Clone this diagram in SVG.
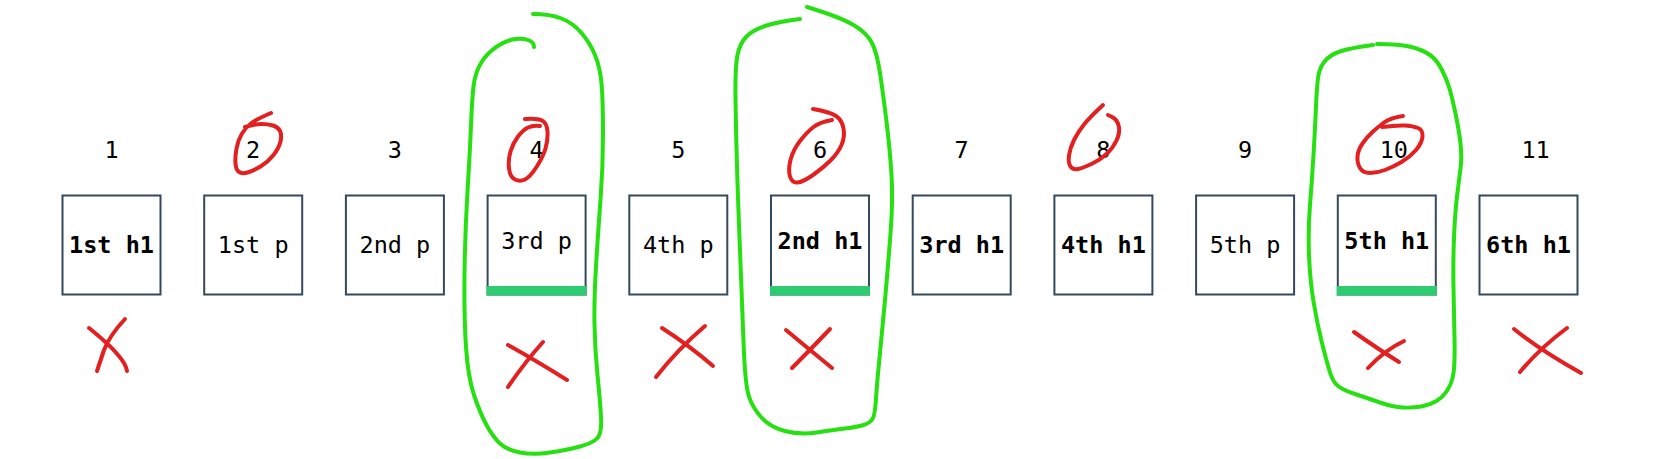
<svg xmlns="http://www.w3.org/2000/svg" width="1653" height="459" viewBox="0 0 1653 459">
<style>
.box{fill:#fff;stroke:#34495e;stroke-width:2}
.bar{fill:#2ecc71}
.t{font-family:"DejaVu Sans Mono","Liberation Mono",monospace;font-size:23.5px;fill:#000;text-anchor:middle}
.n{font-family:"DejaVu Sans Mono","Liberation Mono",monospace;font-size:23.5px;fill:#000;text-anchor:start}
.b{font-weight:bold}
.red{fill:none;stroke:#e3201f;stroke-width:4;stroke-linecap:round;stroke-linejoin:round}
.grn{fill:none;stroke:#26e012;stroke-width:4;stroke-linecap:round;stroke-linejoin:round}
</style>
<rect width="1653" height="459" fill="#fff"/>
<g id="labels">
<text class="n" x="104.4" y="158">1</text>
<text class="n" x="246.1" y="158">2</text>
<text class="n" x="387.8" y="158">3</text>
<text class="n" x="529.5" y="158">4</text>
<text class="n" x="671.2" y="158">5</text>
<text class="n" x="812.9" y="158">6</text>
<text class="n" x="954.6" y="158">7</text>
<text class="n" x="1096.3" y="158">8</text>
<text class="n" x="1238" y="158">9</text>
<text class="n" x="1379.7" y="158">10</text>
<text class="n" x="1521.4" y="158">11</text>
</g>
<g id="n1"><rect class="box" x="62.5" y="195.5" width="98" height="99"/><text class="t b" x="111.5" y="253">1st h1</text></g>
<g id="n2"><rect class="box" x="204.2" y="195.5" width="98" height="99"/><text class="t" x="253.2" y="253">1st p</text></g>
<g id="n3"><rect class="box" x="345.9" y="195.5" width="98" height="99"/><text class="t" x="394.9" y="253">2nd p</text></g>
<g id="n4"><rect class="box" x="487.6" y="195.5" width="98" height="99"/><rect class="bar" x="486.6" y="286" width="100" height="9.5"/><text class="t" x="536.6" y="249">3rd p</text></g>
<g id="n5"><rect class="box" x="629.3" y="195.5" width="98" height="99"/><text class="t" x="678.3" y="253">4th p</text></g>
<g id="n6"><rect class="box" x="771" y="195.5" width="98" height="99"/><rect class="bar" x="770" y="286" width="100" height="9.5"/><text class="t b" x="820" y="249">2nd h1</text></g>
<g id="n7"><rect class="box" x="912.7" y="195.5" width="98" height="99"/><text class="t b" x="961.7" y="253">3rd h1</text></g>
<g id="n8"><rect class="box" x="1054.4" y="195.5" width="98" height="99"/><text class="t b" x="1103.4" y="253">4th h1</text></g>
<g id="n9"><rect class="box" x="1196.1" y="195.5" width="98" height="99"/><text class="t" x="1245.1" y="253">5th p</text></g>
<g id="n10"><rect class="box" x="1337.8" y="195.5" width="98" height="99"/><rect class="bar" x="1336.8" y="286" width="100" height="9.5"/><text class="t b" x="1386.8" y="249">5th h1</text></g>
<g id="n11"><rect class="box" x="1479.5" y="195.5" width="98" height="99"/><text class="t b" x="1528.5" y="253">6th h1</text></g>
<g id="annotations">
<path class="grn" d="M533,14 Q550,14 561.5,18.5 Q573,23 581.5,33 Q590,43 595,55 Q600,67 601.5,83.5 Q603,100 603,133.5 Q603,167 600.5,200 Q598,233 596,266.5 Q594,300 594.5,325 Q595,350 597.5,375 Q600,400 601,416.5 Q602,433 597.5,438 Q593,443 580,446.5 Q567,450 550,452.5 Q533,455 520,452.5 Q507,450 500,443.5 Q493,437 486.5,425 Q480,413 474,395 Q468,377 466,347 Q464,317 464.5,275 Q465,233 467.5,191.5 Q470,150 471,125 Q472,100 473.5,86.5 Q475,73 481,63 Q487,53 497,46.5 Q507,40 515,39 Q523,38 528,40 Q533,42 533.5,44.5 L534,47"/>
<path class="grn" d="M800,19 Q777,22 765,26 Q753,30 746.5,36.5 Q740,43 737.5,55 Q735,67 735.5,100 Q736,133 737,166.5 Q738,200 740,250 Q742,300 743.5,341.5 Q745,383 748.5,395 Q752,407 761,417 Q770,427 785,431 Q800,435 816.5,432.5 Q833,430 845,428.5 Q857,427 863.5,425 Q870,423 872.5,419 Q875,415 876,399 Q877,383 879.5,358 Q882,333 885,300 Q888,267 890.5,233.5 Q893,200 891.5,175 Q890,150 886.5,121.5 Q883,93 880,73 Q877,53 872,43 Q867,33 853.5,25 Q840,17 807,7"/>
<path class="grn" d="M1373,45 Q1350,48 1340,51.5 Q1330,55 1325,61 Q1320,67 1318.5,75 Q1317,83 1316,106.5 Q1315,130 1313.5,155 Q1312,180 1310,205 Q1308,230 1309,255 Q1310,280 1313.5,301.5 Q1317,323 1322,343 Q1327,363 1330,372.5 Q1333,382 1338,386 Q1343,390 1355,394 Q1367,398 1380,402.5 Q1393,407 1403,407.5 Q1413,408 1421.5,406.5 Q1430,405 1436.5,401 Q1443,397 1447.5,390 Q1452,383 1453.5,373 Q1455,363 1454.5,338 Q1454,313 1453.5,288 Q1453,263 1454,238 Q1455,213 1457,196.5 Q1459,180 1460.5,168.5 Q1462,157 1460.5,143.5 Q1459,130 1455.5,113.5 Q1452,97 1449.5,88.5 Q1447,80 1442,70 Q1437,60 1430,55 Q1423,50 1411.5,47 Q1400,44 1377,44"/>
<path class="red" d="M271,113 Q257,119 251.5,123 Q246,127 242,133.5 Q238,140 236.5,148.5 Q235,157 235.5,163.5 Q236,170 239,172 Q242,174 247.5,172.5 Q253,171 260.5,166.5 Q268,162 273.5,155 Q279,148 280.5,141.5 Q282,135 280,131 Q278,127 273,125.5 Q268,124 261.5,124 Q255,124 245,127"/>
<path class="red" d="M525,119 Q537,118 542,120.5 Q547,123 547.5,131.5 Q548,140 545.5,148.5 Q543,157 536.5,167 Q530,177 525,179.5 Q520,182 515,179.5 Q510,177 509,168.5 Q508,160 510.5,151.5 Q513,143 518,136.5 Q523,130 528,127.5 Q533,125 540,126"/>
<path class="red" d="M813,109 Q830,112 836,116 Q842,120 843.5,128.5 Q845,137 841.5,145 Q838,153 830.5,160.5 Q823,168 813,175 Q803,182 797.5,182.5 Q792,183 790,176.5 Q788,170 790.5,160 Q793,150 800,141 Q807,132 813.5,127 Q820,122 832,120"/>
<path class="red" d="M1103,105 Q1090,117 1084,124.5 Q1078,132 1074,140 Q1070,148 1069,155.5 Q1068,163 1070.5,166.5 Q1073,170 1078,169 Q1083,168 1091.5,164 Q1100,160 1106.5,154 Q1113,148 1116.5,140.5 Q1120,133 1119,127.5 Q1118,122 1115.5,119.5 Q1113,117 1108,115"/>
<path class="red" d="M1403,116 Q1390,118 1384,122.5 Q1378,127 1372.5,132 Q1367,137 1362.5,143.5 Q1358,150 1357.5,156.5 Q1357,163 1360,168 Q1363,173 1370,173 Q1377,173 1385,170 Q1393,167 1401.5,162 Q1410,157 1416,150 Q1422,143 1422.5,136.5 Q1423,130 1418,128 Q1413,126 1405,125.5 Q1397,125 1382,127"/>
<path class="red" d="M89,328 Q110,345 118,355 Q126,364 127,371 M125,319 Q110,335 104,350 L97,371"/>
<path class="red" d="M508,345 Q535,360 567,380 M543,342 Q525,362 508,387"/>
<path class="red" d="M662,328 Q690,346 713,366 M705,326 Q678,349 656,377"/>
<path class="red" d="M786,330 Q810,350 832,368 M830,329 Q810,350 792,368"/>
<path class="red" d="M1354,332 Q1378,349 1399,362 M1404,341 Q1385,350 1368,368"/>
<path class="red" d="M1514,329 Q1540,350 1581,373 M1567,328 Q1540,348 1520,372"/>
</g>
</svg>
